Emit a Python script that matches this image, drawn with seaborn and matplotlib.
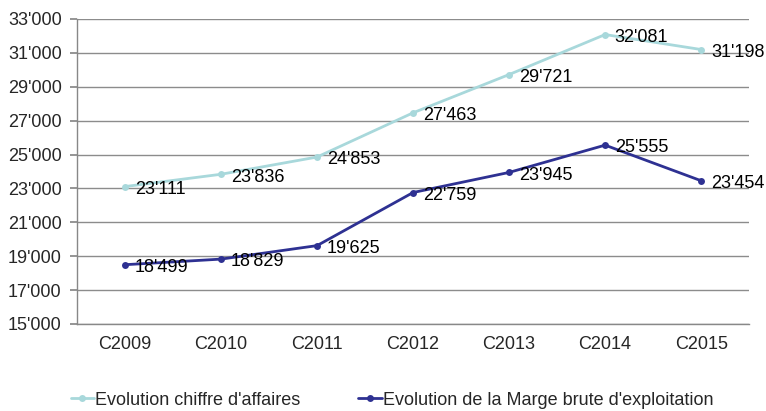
import numpy as np
import pandas as pd
import matplotlib
matplotlib.use("Agg")
import matplotlib.pyplot as plt
import seaborn as sns
from matplotlib.ticker import FuncFormatter

# Data
years = ["C2009", "C2010", "C2011", "C2012", "C2013", "C2014", "C2015"]
chiffre_affaires = [23111, 23836, 24853, 27463, 29721, 32081, 31198]
marge_brute = [18499, 18829, 19625, 22759, 23945, 25555, 23454]
series_names = ["Evolution chiffre d'affaires", "Evolution de la Marge brute d'exploitation"]
colors = ["#A8D8DB", "#2E3192"]

sns.set_theme(style="white")
plt.rcParams['font.family'] = ['Liberation Sans', 'DejaVu Sans']

df = pd.DataFrame({
    "annee": years * 2,
    "x": list(range(len(years))) * 2,
    "valeur": chiffre_affaires + marge_brute,
    "serie": [series_names[0]] * len(years) + [series_names[1]] * len(years),
})

fig = plt.figure(figsize=(7.66, 4.11), dpi=100)
ax = fig.add_axes([0.1005, 0.2117, 0.8775, 0.7421])

sns.lineplot(data=df, x="x", y="valeur", hue="serie", palette=colors,
             marker="o", markersize=5, markeredgewidth=0, linewidth=2, ax=ax)

# etiquettes de donnees
for vals in [chiffre_affaires, marge_brute]:
    for i, v in enumerate(vals):
        ax.annotate(f"{v:,}".replace(",", "'"), (i, v), xytext=(7, -2),
                    textcoords="offset points", fontsize=13, va="center", ha="left", color="black")

ax.set_xlim(-0.5, len(years) - 0.5)
ax.set_ylim(15000, 33000)
ax.set_yticks(np.arange(15000, 33001, 2000))
ax.yaxis.set_major_formatter(FuncFormatter(lambda v, p: f"{int(v):,}".replace(",", "'")))
ax.set_xticks(range(len(years)))
ax.set_xticklabels(years)
ax.set_xticks(np.arange(-0.5, len(years), 1), minor=True)
ax.tick_params(axis="x", which="major", length=0, pad=9, labelsize=13)
ax.tick_params(axis="x", which="minor", length=5, color="#888888", direction="out")
ax.tick_params(axis="y", length=5, color="#888888", direction="out", labelsize=13, pad=6, left=True)
ax.set_xlabel("")
ax.set_ylabel("")

ax.yaxis.grid(True, color="#8C8C8C", linewidth=1)
ax.set_axisbelow(True)
for s in ["top", "right"]:
    ax.spines[s].set_visible(False)
for s in ["left", "bottom"]:
    ax.spines[s].set_color("#888888")
    ax.spines[s].set_linewidth(1)

handles, labels = ax.get_legend_handles_labels()
ax.legend(handles, labels, loc="center left", bbox_to_anchor=(-0.02, -0.25), ncol=2,
          frameon=False, fontsize=13, handlelength=1.3, handletextpad=0.05,
          columnspacing=3.2, borderaxespad=0)

fig.savefig("out.png", dpi=100)
